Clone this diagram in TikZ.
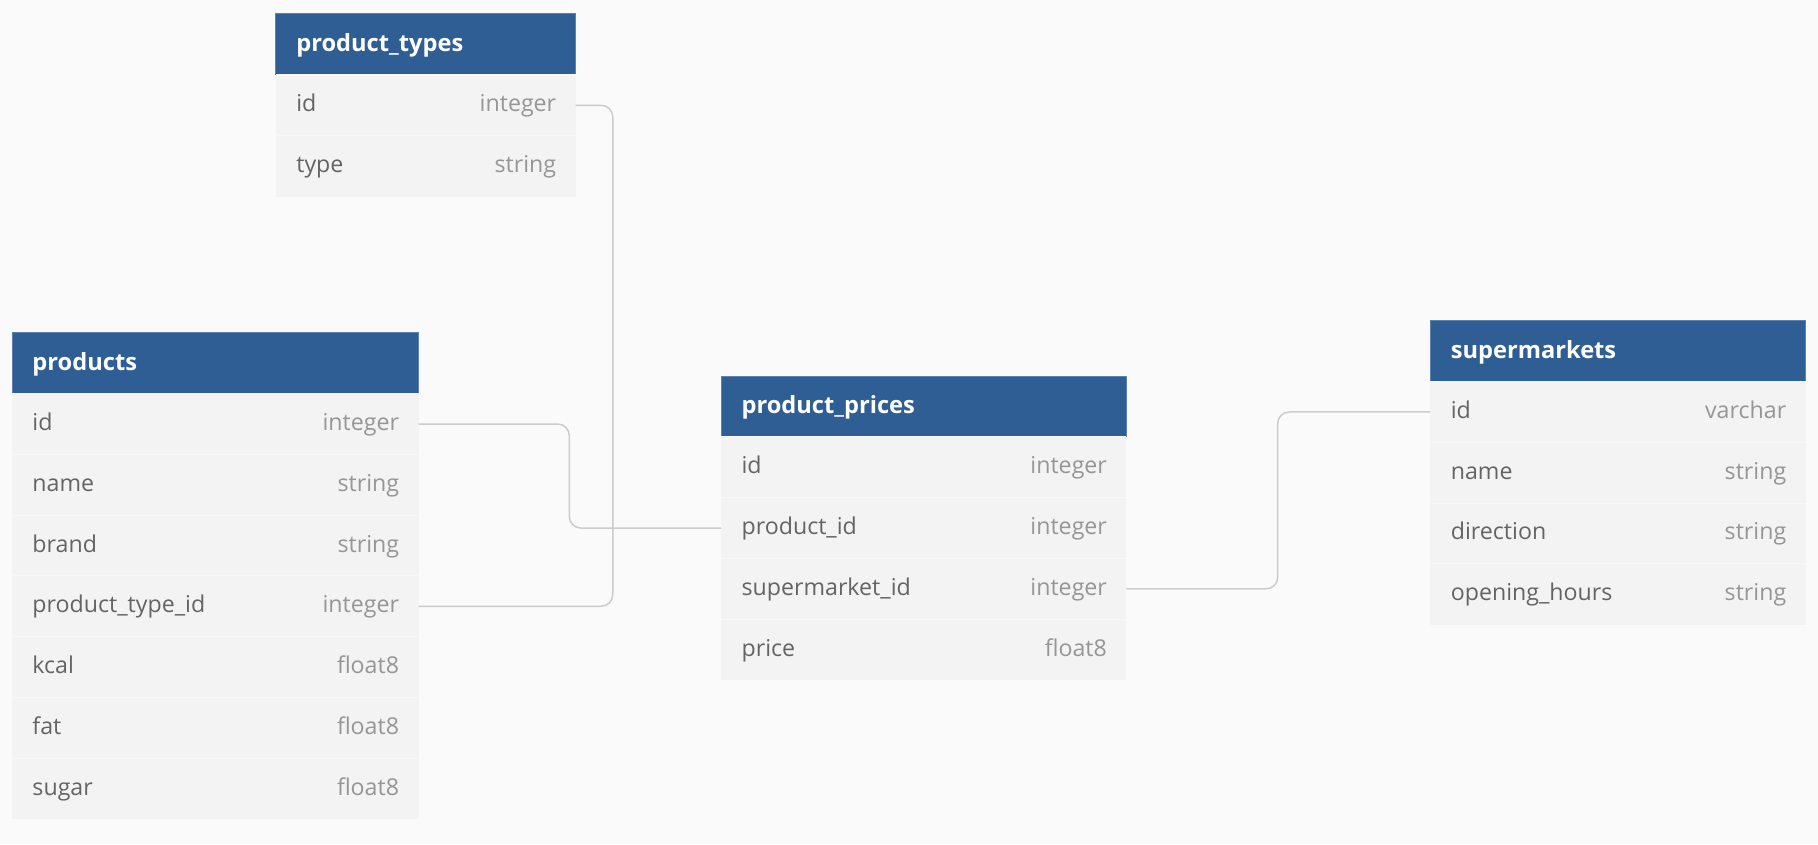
\documentclass[tikz,border=0pt]{standalone}
\usepackage{fontspec}
\setmainfont{Open Sans}
\usetikzlibrary{positioning}

\begin{document}
\begin{tikzpicture}[x=0.5pt,y=-0.5pt]

% Define colors
\definecolor{headblue}{RGB}{47,94,149}
\definecolor{headedge}{RGB}{92,128,176}
\definecolor{rowgray}{RGB}{243,243,243}
\definecolor{rowline}{RGB}{247,247,247}
\definecolor{bggray}{RGB}{250,250,250}
\definecolor{namegray}{RGB}{100,100,100}
\definecolor{typegray}{RGB}{150,150,150}
\definecolor{linkgray}{RGB}{204,204,204}

\tikzset{
    headbox/.style={fill=headblue, draw=headedge, line width=0.4pt, minimum height=26.25pt, inner sep=0pt, outer sep=0pt},
    fieldbox/.style={fill=rowgray, minimum height=26.2pt, inner sep=0pt, outer sep=0pt},
    headtext/.style={font=\fontsize{10.2}{12}\selectfont\bfseries, text=white, inner sep=0pt},
    fieldtext/.style={font=\fontsize{10}{12}\selectfont, text=namegray, inner sep=0pt},
    typetext/.style={font=\fontsize{10}{12}\selectfont, text=typegray, inner sep=0pt},
    link/.style={draw=linkgray, line width=0.65pt, rounded corners=5pt}
}

% Helper for table header
\newcommand{\dbhead}[5]{%
    % #1 = node name, #2 = x, #3 = y, #4 = width, #5 = title
    \node[headbox, minimum width=#4*0.5pt, anchor=north west] (#1) at (#2,#3) {};
    \node[headtext, anchor=base west] at ([xshift=8.6pt, yshift=-3.1pt]#1.west) {#5};
}
% Helper for one field row
\newcommand{\dbfield}[6]{%
    % #1 = node name, #2 = x, #3 = y, #4 = width, #5 = field, #6 = type
    \node[fieldbox, minimum width=#4*0.5pt, anchor=north west] (#1) at (#2,#3) {};
    \draw[rowline, line width=0.5pt] (#1.north west) -- (#1.north east);
    \node[fieldtext, anchor=base west] at ([xshift=8.6pt, yshift=-2.8pt]#1.west) {#5};
    \node[typetext, anchor=base east] at ([xshift=-8.2pt, yshift=-2.8pt]#1.east) {#6};
}

\fill[bggray] (0,0) rectangle (1568,728);
\useasboundingbox (0,0) rectangle (1568,728);

% product_types
\dbhead{ptypes}{238}{12}{258.5}{product\_types}
\foreach \fname/\ftype [count=\i] in {id/integer, type/string} {
    \pgfmathsetmacro{\rowy}{64.7+52.4*(\i-1)}
    \dbfield{ptypes-\i}{238}{\rowy}{258.5}{\fname}{\ftype}
}

% products
\dbhead{products}{10.4}{287}{350.6}{products}
\foreach \fname/\ftype [count=\i] in {id/integer, name/string, brand/string,
    product\_type\_id/integer, kcal/float8, fat/float8, sugar/float8} {
    \pgfmathsetmacro{\rowy}{339.5+52.4*(\i-1)}
    \dbfield{products-\i}{10.4}{\rowy}{350.6}{\fname}{\ftype}
}

% product_prices
\dbhead{prices}{622}{324.3}{349.5}{product\_prices}
\foreach \fname/\ftype [count=\i] in {id/integer, product\_id/integer,
    supermarket\_id/integer, price/float8} {
    \pgfmathsetmacro{\rowy}{376.8+52.4*(\i-1)}
    \dbfield{prices-\i}{622}{\rowy}{349.5}{\fname}{\ftype}
}

% supermarkets
\dbhead{markets}{1233.7}{276.6}{323.7}{supermarkets}
\foreach \fname/\ftype [count=\i] in {id/varchar, name/string, direction/string,
    opening\_hours/string} {
    \pgfmathsetmacro{\rowy}{329.1+52.4*(\i-1)}
    \dbfield{markets-\i}{1233.7}{\rowy}{323.7}{\fname}{\ftype}
}

% Relations
\draw[link] (ptypes-1.east) -- ++(32,0) |- (products-4.east);
\draw[link] (products-1.east) -- ++(130,0) |- (prices-2.west);
\draw[link] (prices-3.east) -- ++(130.5,0) |- (markets-1.west);

\end{tikzpicture}
\end{document}
